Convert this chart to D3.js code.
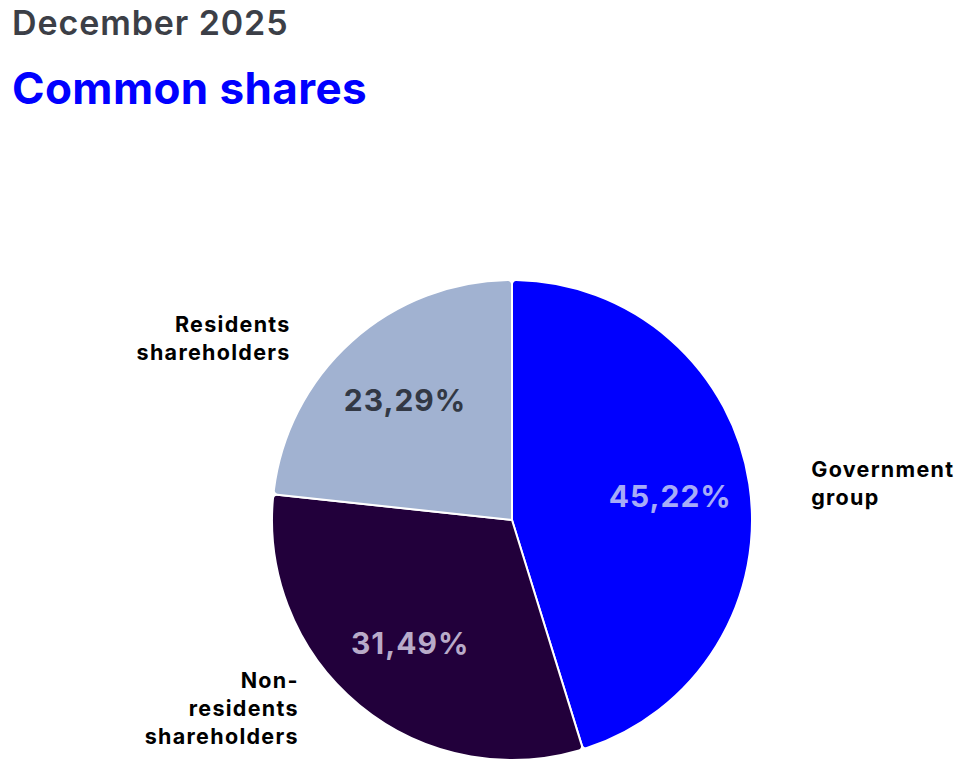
<!DOCTYPE html>
<html>
<head>
<meta charset="utf-8">
<script src="https://cdn.jsdelivr.net/npm/d3@7"></script>
<style>
  html, body { margin: 0; padding: 0; background: #ffffff; }
  svg { display: block; font-family: Inter, "Noto Sans", sans-serif; }
</style>
</head>
<body>
<svg id="chart" width="968" height="774"></svg>
<script>
const categories = ["Government group", "Non-residents shareholders", "Residents shareholders"];
const labelLines = [["Government", "group"], ["Non-", "residents", "shareholders"], ["Residents", "shareholders"]];
const values = [45.22, 31.49, 23.29];
const sliceColors = ["#0000ff", "#22003b", "#a1b2d1"];
const valueColors = ["#a6abf8", "#b9abc9", "#323844"];

const cx = 512, cy = 520, radius = 240;

const svg = d3.select("#chart");

svg.append("text")
  .attr("x", 12).attr("y", 35)
  .attr("fill", "#3c3f47")
  .attr("font-size", 34).attr("font-weight", 600)
  .attr("letter-spacing", 0.9)
  .text("December 2025");

svg.append("text")
  .attr("x", 12).attr("y", 104)
  .attr("fill", "#0000ff")
  .attr("font-size", 44).attr("font-weight", 700)
  .attr("letter-spacing", 0.4)
  .text("Common shares");

const data = categories.map((c, i) => ({ name: c, value: values[i], i }));

const pie = d3.pie().value((d) => d.value).sort(null);
const arcs = pie(data);

const arc = d3.arc().innerRadius(0).outerRadius(radius).cornerRadius(4);
const labelArc = d3.arc().innerRadius(radius * 0.667).outerRadius(radius * 0.667);

const root = svg.append("g").attr("transform", `translate(${cx},${cy})`);

root.selectAll("path.slice")
  .data(arcs)
  .join("path")
  .attr("class", "slice")
  .attr("d", arc)
  .attr("fill", (d) => sliceColors[d.data.i])
  .attr("stroke", "#ffffff")
  .attr("stroke-width", 2)
  .attr("stroke-linejoin", "round");

root.selectAll("text.value")
  .data(arcs)
  .join("text")
  .attr("class", "value")
  .attr("transform", (d) => `translate(${labelArc.centroid(d)})`)
  .attr("dy", "0.35em")
  .attr("text-anchor", "middle")
  .attr("font-size", 30)
  .attr("font-weight", 700)
  .attr("letter-spacing", 1)
  .attr("fill", (d) => valueColors[d.data.i])
  .text((d) => d.data.value.toFixed(2).replace(".", ",") + "%");

// Outer labels: y follows the slice's middle angle on the rim, x sits a fixed gap outside the pie edge.
const gap = 64, lineH = 28;
root.selectAll("text.name")
  .data(arcs)
  .join("text")
  .attr("class", "name")
  .attr("font-size", 21.5)
  .attr("font-weight", 700)
  .attr("letter-spacing", 1.3)
  .attr("fill", "#000000")
  .each(function (d) {
    const mid = (d.startAngle + d.endAngle) / 2;
    const y = -Math.cos(mid) * radius * 1.015;
    const right = Math.sin(mid) >= 0;
    const edge = Math.sqrt(Math.max(0, radius * radius - y * y));
    const x = right ? edge + gap - 2 : -edge - gap;
    const lines = labelLines[d.data.i];
    const top = y - ((lines.length - 1) * lineH) / 2;
    d3.select(this)
      .attr("text-anchor", right ? "start" : "end")
      .selectAll("tspan")
      .data(lines)
      .join("tspan")
      .attr("x", x)
      .attr("y", (_, k) => top + k * lineH)
      .attr("dy", "0.35em")
      .text((t) => t);
  });
</script>
</body>
</html>
